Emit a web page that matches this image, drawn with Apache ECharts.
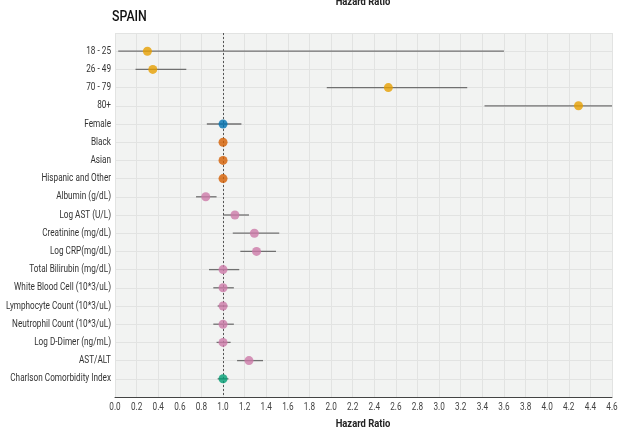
<!DOCTYPE html>
<html>
<head>
<meta charset="utf-8">
<script src="https://cdn.jsdelivr.net/npm/echarts@6/dist/echarts.min.js"></script>
<style>
  html, body { margin: 0; padding: 0; background: #ffffff; }
  #chart { width: 621px; height: 433px; }
</style>
</head>
<body>
<div id="chart"></div>
<script>
// Hazard ratios with 95% confidence intervals, one row per covariate (top to bottom)
const categories = [
  '18 - 25', '26 - 49', '70 - 79', '80+', 'Female', 'Black', 'Asian', 'Hispanic and Other',
  'Albumin (g/dL)', 'Log AST (U/L)', 'Creatinine (mg/dL)', 'Log CRP(mg/dL)',
  'Total Bilirubin (mg/dL)', 'White Blood Cell (10*3/uL)', 'Lymphocyte Count (10*3/uL)',
  'Neutrophil Count (10*3/uL)', 'Log D-Dimer (ng/mL)', 'AST/ALT', 'Charlson Comorbidity Index'
];
const hazardRatio = [0.30, 0.35, 2.53, 4.29, 1.00, 1.00, 1.00, 1.00,
  0.84, 1.11, 1.29, 1.31, 1.00, 1.00, 1.00, 1.00, 1.00, 1.24, 1.00];
const ciLower = [0.03, 0.19, 1.96, 3.42, 0.85, 1.00, 1.00, 1.00,
  0.75, 1.00, 1.09, 1.16, 0.87, 0.91, 0.95, 0.91, 0.94, 1.13, 0.95];
const ciUpper = [3.60, 0.66, 3.26, 4.80, 1.17, 1.00, 1.00, 1.00,
  0.94, 1.24, 1.52, 1.49, 1.15, 1.10, 1.04, 1.10, 1.07, 1.37, 1.05];
const groups = ['age', 'age', 'age', 'age', 'sex', 'race', 'race', 'race',
  'lab', 'lab', 'lab', 'lab', 'lab', 'lab', 'lab', 'lab', 'lab', 'lab', 'comorbidity'];
const groupColors = { age: '#E69F00', sex: '#0072B2', race: '#D55E00', lab: '#CC79A7', comorbidity: '#009E73' };
const xTickLabels = ['0.0', '0.2', '0.4', '0.6', '0.8', '1.0', '1.2', '1.4', '1.6', '1.8', '2.0', '2.2',
  '2.4', '2.6', '2.8', '3.0', '3.2', '3.4', '3.6', '3.8', '4.0', '4.2', '4.4', '4.6'];

const FONT = 'Roboto, "Noto Sans", sans-serif';
const NARROW = 0.82;           // horizontal squeeze for a condensed look
const Y_MIN = -1, Y_MAX = 19;  // half-row padding above the first and below the last row

const chart = echarts.init(document.getElementById('chart'), null, { renderer: 'canvas' });

const ciData = categories.map((c, i) => [ciLower[i], ciUpper[i], i]);
const pointData = categories.map((c, i) => ({
  value: [hazardRatio[i], i],
  itemStyle: { color: groupColors[groups[i]] }
}));
const rowLabelData = categories.map((c, i) => [0, i]);
const tickData = xTickLabels.map(t => [parseFloat(t), Y_MAX]);

function squeezedText(x, y, text, size, weight, color, align, squeeze) {
  return {
    type: 'text', x: x, y: y, scaleX: squeeze || NARROW, scaleY: 1,
    style: {
      text: text, fill: color, align: align, verticalAlign: 'middle',
      font: weight + ' ' + size + 'px ' + FONT
    }
  };
}

chart.setOption({
  animation: false,
  backgroundColor: '#ffffff',
  graphic: [
    squeezedText(112, 17, 'SPAIN', 15, 500, '#111', 'left'),
    squeezedText(363, 2, 'Hazard Ratio', 11.5, 'bold', '#222', 'center'),
    squeezedText(363, 424, 'Hazard Ratio', 11.5, 'bold', '#222', 'center')
  ],
  grid: {
    left: 115, right: 9, top: 33, bottom: 36,
    outerBoundsMode: 'none', containLabel: false,
    show: true, backgroundColor: '#f2f3f2', borderWidth: 0
  },
  xAxis: {
    type: 'value', min: 0, max: 4.6, interval: 0.2,
    axisLine: { show: true, onZero: false, lineStyle: { color: '#444', width: 1 } },
    axisTick: { show: false },
    axisLabel: { show: false },
    splitLine: { show: true, lineStyle: { color: '#e2e3e2', width: 1 } }
  },
  yAxis: {
    type: 'value', min: Y_MIN, max: Y_MAX, interval: 1, inverse: true,
    axisLine: { show: false }, axisTick: { show: false },
    axisLabel: { show: false },
    splitLine: { show: true, lineStyle: { color: '#e2e3e2', width: 1 } }
  },
  series: [
    {
      // confidence interval whiskers
      type: 'custom', clip: true, z: 2,
      data: ciData,
      renderItem: (params, api) => {
        const a = api.coord([api.value(0), api.value(2)]);
        const b = api.coord([api.value(1), api.value(2)]);
        return {
          type: 'line',
          shape: { x1: a[0], y1: a[1], x2: b[0], y2: b[1] },
          style: { stroke: '#707070', lineWidth: 1.3 }
        };
      }
    },
    {
      // point estimates plus the reference line at HR = 1
      type: 'scatter', z: 4, symbol: 'circle', symbolSize: 9,
      data: pointData,
      markLine: {
        silent: true, symbol: 'none', z: 3,
        label: { show: false },
        lineStyle: { color: '#555', type: [2, 2], width: 1 },
        data: [{ xAxis: 1 }]
      }
    },
    {
      // row labels on the left
      type: 'custom', clip: false, silent: true,
      data: rowLabelData,
      renderItem: (params, api) => {
        const p = api.coord([api.value(0), api.value(1)]);
        return squeezedText(p[0] - 4, p[1], categories[params.dataIndex], 10.5, 'normal', '#333', 'right', 0.78);
      }
    },
    {
      // x tick labels under the axis
      type: 'custom', clip: false, silent: true,
      data: tickData,
      renderItem: (params, api) => {
        const p = api.coord([api.value(0), api.value(1)]);
        return squeezedText(p[0], p[1] + 10, xTickLabels[params.dataIndex], 10, 'normal', '#444', 'center');
      }
    }
  ]
});
</script>
</body>
</html>
